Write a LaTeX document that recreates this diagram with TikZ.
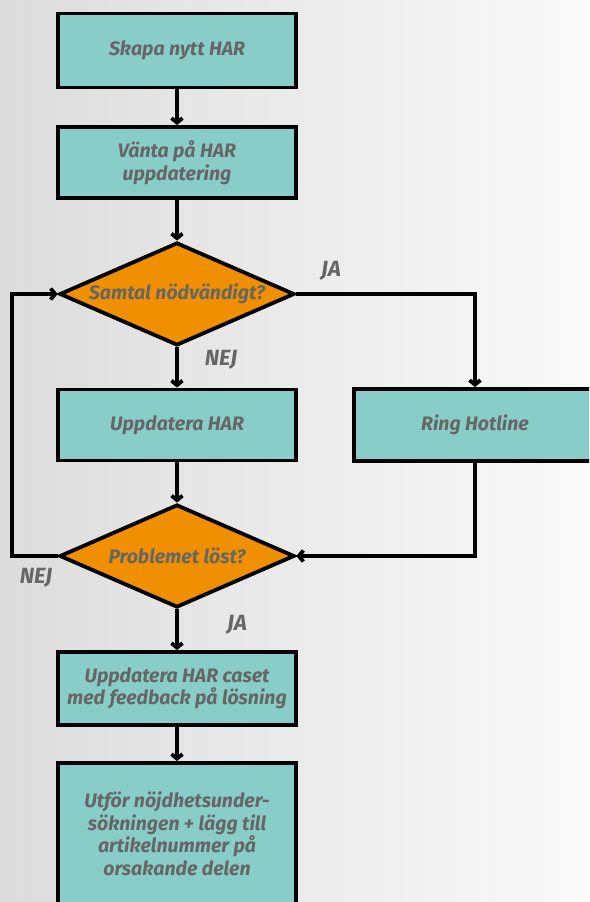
\documentclass[tikz,border=0pt]{standalone}
\usepackage{fontspec}
\setmainfont{Fira Sans}
\usetikzlibrary{shapes.geometric,arrows.meta}
\definecolor{teal}{HTML}{88CDC8}
\definecolor{orng}{HTML}{F09000}
\definecolor{txt}{HTML}{666666}
\definecolor{bgL}{HTML}{DCDCDC}
\definecolor{bgR}{HTML}{FAFAFA}
\begin{document}
\begin{tikzpicture}[x=1pt,y=-1pt,
  lbl/.style={font=\fontsize{22}{26}\selectfont\bfseries\itshape, text=txt},
  box/.style={draw=black, line width=3.8pt, fill=teal, rectangle, minimum width=238pt,
    align=center, inner sep=2pt, text=txt, font=\fontsize{19.5}{22.5}\selectfont\bfseries\itshape},
  dec/.style={draw=black, line width=3.8pt, fill=orng, diamond, aspect=2.27,
    minimum width=235pt, minimum height=103pt, inner sep=0pt, text=txt,
    font=\fontsize{19.5}{22.5}\selectfont\bfseries\itshape},
  arr/.style={line width=3.8pt, -{Straight Barb[length=4.5pt,width=11pt]}}]
\useasboundingbox (0,0) rectangle (589,902);
\shade[left color=bgL, right color=bgR] (0,0) rectangle (589,902);
\begin{scope}
\clip (0,0) rectangle (589,902);
\node[box, minimum height=74pt] (b1) at (177,50.5) {Skapa nytt HAR};
\node[box, minimum height=71pt] (b2) at (177,162.5) {Vänta på HAR\\uppdatering};
\node[dec] (d1) at (177,294) {Samtal nödvändigt?};
\node[box, minimum height=71pt] (b3) at (177,425) {Uppdatera HAR};
\node[box, minimum height=72pt, minimum width=242pt] (r) at (475,425) {Ring Hotline};
\node[dec] (d2) at (177,556) {Problemet löst?};
\node[box, minimum height=73pt] (b5) at (177,688.5) {Uppdatera HAR caset\\med feedback på lösning};
\node[box, minimum height=142pt] (b6) at (177,834) {Utför nöjdhetsunder-\\sökningen + lägg till\\artikelnummer på\\orsakande delen};
\coordinate (c1) at (475,294);
\coordinate (c2) at (475,556);
\coordinate (c3) at (12,556);
\coordinate (c4) at (12,294);
\draw[arr] (b1) -- (b2);
\draw[arr] (b2) -- (d1);
\draw[arr] (d1.east) -- (c1) -- (r.north);
\draw[arr] (d1.south) -- (b3);
\draw[arr] (b3) -- (d2);
\draw[arr] (r.south) -- (c2) -- (d2.east);
\draw[arr] (d2.west) -- (c3) -- (c4) -- (d1.west);
\draw[arr] (d2.south) -- (b5);
\draw[arr] (b5) -- (b6);
\node[lbl] (ja1) at (331,271) {JA};
\node[lbl] (nej1) at (221,360) {NEJ};
\node[lbl] (nej2) at (36,578) {NEJ};
\node[lbl] (ja2) at (237,625) {JA};
\end{scope}
\end{tikzpicture}
\end{document}
